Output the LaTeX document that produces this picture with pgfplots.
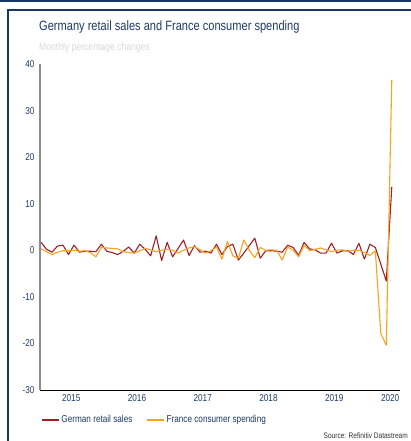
\documentclass[border=0pt]{standalone}
\usepackage{pgfplots}
\pgfplotsset{compat=1.18}
\usepackage{fontspec}
\setmainfont{Liberation Sans}[FakeStretch=0.82]
\definecolor{navy}{HTML}{1F3B66}
\definecolor{frame}{HTML}{17375E}
\definecolor{gred}{HTML}{A0202A}
\definecolor{forange}{HTML}{F9A21B}
\definecolor{subgray}{HTML}{D9D9D9}
\begin{document}
\begin{tikzpicture}[x=1pt,y=1pt]
\useasboundingbox (0,0) rectangle (411,441);
\fill[white] (0,0) rectangle (411,441);
\fill[frame] (0,439) rectangle (411,441);
\fill[frame] (7,430) rectangle (411,432);
\fill[frame] (7,0) rectangle (9,432);
\node[anchor=base west, inner sep=0pt, text=navy, font=\fontsize{13.5}{14}\selectfont] at (39,410) {Germany retail sales and France consumer spending};
\node[anchor=base west, inner sep=0pt, text=subgray, font=\fontsize{10.5}{12}\selectfont] at (39,390) {Monthly percentage changes};
\node[anchor=base east, inner sep=0pt, text=black!80, font=\fontsize{8}{9}\selectfont] at (408,2) {Source: Refinitiv Datastream};
\begin{axis}[
  at={(40pt,51pt)}, anchor=south west,
  scale only axis, width=360pt, height=326pt,
  xmin=-0.2, xmax=65.5, ymin=-30, ymax=40,
  axis x line=bottom, axis y line=left,
  x axis line style={black, line width=0.9pt, -},
  y axis line style={black!45, line width=1.1pt, -},
  ytick={-30,-20,-10,0,10,20,30,40},
  xtick={5.5,17.5,29.5,41.5,53.5,63.7},
  xticklabels={2015,2016,2017,2018,2019,2020},
  major tick length=0pt,
  /pgf/number format/assume math mode=true,
  tick label style={text=navy, font=\fontsize{10}{11}\selectfont},
  yticklabel style={xshift=-2pt},
  xticklabel style={yshift=-1pt},
  clip=false,
  legend columns=2,
  legend style={at={(0.003,-0.092)}, anchor=west, draw=none, fill=none, inner sep=0pt,
    font=\fontsize{10}{11}\selectfont, text=navy,
    /tikz/every even column/.append style={column sep=12pt}},
  legend cell align=left,
  legend image code/.code={\draw[#1] (0pt,0pt) -- (17pt,0pt);},
]
\addplot[gred, line width=1.1pt, line join=round] coordinates {
(0,1.7)(1,0.2)(2,-0.4)(3,0.9)(4,1.1)(5,-0.9)(6,1.1)(7,-0.4)(8,-0.2)(9,-0.2)
(10,-0.3)(11,1.3)(12,-0.2)(13,-0.5)(14,-0.9)(15,-0.2)(16,0.7)(17,-0.6)(18,1.3)(19,0.2)
(20,-1.2)(21,3.1)(22,-2.2)(23,1.7)(24,-1.4)(25,0.4)(26,2.2)(27,-1.1)(28,1.0)(29,-0.4)
(30,-0.2)(31,-0.6)(32,1.3)(33,-0.9)(34,0.8)(35,1.3)(36,-2.1)(37,-0.6)(38,1.0)(39,2.6)
(40,-1.7)(41,-0.1)(42,-0.1)(43,-0.2)(44,-0.4)(45,1.1)(46,0.6)(47,-1.1)(48,1.7)(49,0.3)
(50,0.1)(51,-0.6)(52,-0.6)(53,1.5)(54,-0.6)(55,-0.1)(56,-0.1)(57,-0.9)(58,1.5)(59,-1.9)
(60,1.3)(61,0.6)(62,-3.0)(63,-6.6)(64,13.6)
};
\addlegendentry{German retail sales}
\addplot[forange, line width=1.1pt, line join=round] coordinates {
(0,0.3)(1,-0.3)(2,-0.9)(3,-0.4)(4,-0.1)(5,-0.1)(6,0.0)(7,-0.2)(8,-0.1)(9,-0.5)
(10,-1.4)(11,0.6)(12,0.5)(13,0.4)(14,0.3)(15,-0.3)(16,-0.5)(17,-0.6)(18,-0.1)(19,0.4)
(20,0.1)(21,-0.3)(22,0.0)(23,0.2)(24,0.0)(25,-0.6)(26,0.0)(27,0.5)(28,0.8)(29,0.1)
(30,-0.6)(31,-0.1)(32,0.7)(33,-1.9)(34,1.9)(35,-1.2)(36,-1.7)(37,2.2)(38,0.0)(39,-1.6)
(40,0.6)(41,0.0)(42,0.1)(43,0.0)(44,-2.1)(45,0.7)(46,0.0)(47,-1.4)(48,1.1)(49,-0.1)
(50,0.2)(51,0.5)(52,0.1)(53,-0.3)(54,0.0)(55,0.1)(56,-0.2)(57,0.0)(58,0.0)(59,-0.5)
(60,-1.1)(61,-0.1)(62,-17.9)(63,-20.4)(64,36.6)
};
\addlegendentry{France consumer spending}
\end{axis}
\end{tikzpicture}
\end{document}
